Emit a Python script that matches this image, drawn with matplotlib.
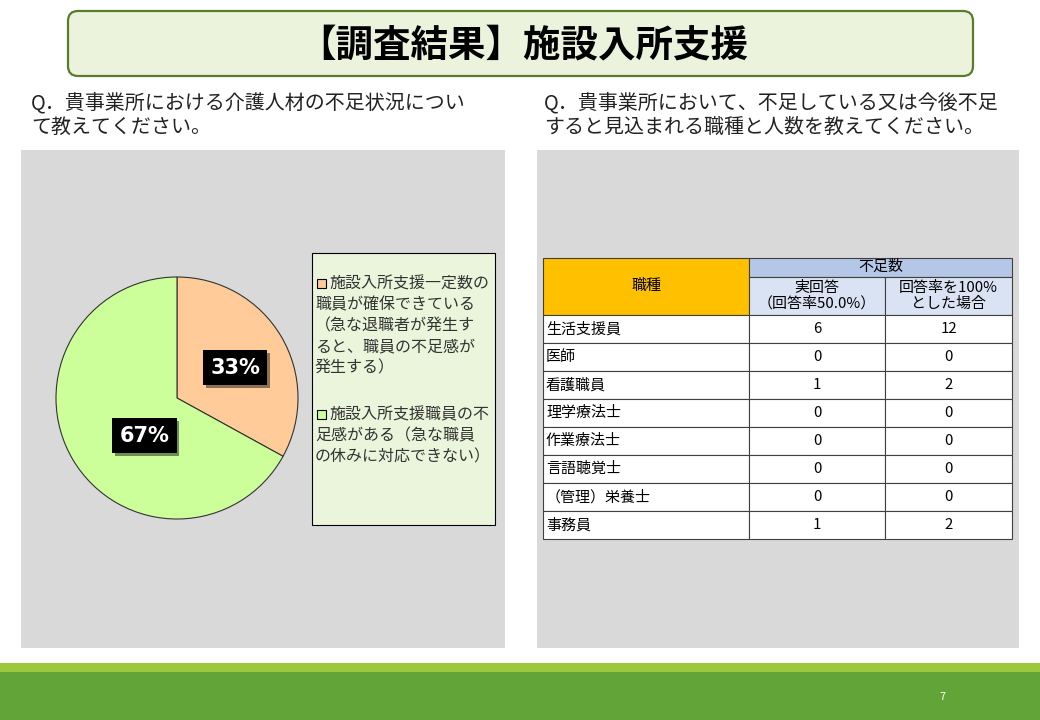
import matplotlib
matplotlib.use("Agg")
import numpy as np
import matplotlib.pyplot as plt
from matplotlib.patches import Rectangle, FancyBboxPatch
import matplotlib.patheffects as pe

plt.rcParams['font.family'] = ['Noto Sans CJK JP', 'DejaVu Sans']

# ---- data ----
title = "【調査結果】施設入所支援"
q_left = ["Q．貴事業所における介護人材の不足状況につい", "て教えてください。"]
q_right = ["Q．貴事業所において、不足している又は今後不足", "すると見込まれる職種と人数を教えてください。"]

pie_values = [33, 67]
pie_colors = ["#FFCC99", "#CCFF99"]
pie_legend = [
    ["施設入所支援一定数の", "職員が確保できている", "（急な退職者が発生す", "ると、職員の不足感が", "発生する）"],
    ["施設入所支援職員の不", "足感がある（急な職員", "の休みに対応できない）"],
]

jobs = ["生活支援員", "医師", "看護職員", "理学療法士", "作業療法士", "言語聴覚士", "（管理）栄養士", "事務員"]
actual = [6, 0, 1, 0, 0, 0, 0, 1]
scaled = [12, 0, 2, 0, 0, 0, 0, 2]
head_job = "職種"
head_group = "不足数"
head_actual = "実回答\n（回答率50.0%）"
head_scaled = "回答率を100%\nとした場合"
page_no = "7"

fig = plt.figure(figsize=(10.4, 7.2), dpi=100)
ax = fig.add_axes([0, 0, 1, 1])
ax.set_xlim(0, 1040)
ax.set_ylim(720, 0)
ax.axis('off')

# title box
ax.add_patch(FancyBboxPatch((68, 11), 905, 65, boxstyle="round,pad=0,rounding_size=10",
                            fc="#EBF3DD", ec="#5B7B2C", lw=1.6))
ax.text(523, 45, title, fontsize=27, fontweight='bold', ha='center', va='center')

# questions
for i, s in enumerate(q_left):
    ax.text(31, 103 + i * 24, s, fontsize=14.4, va='center', color='#222222')
for i, s in enumerate(q_right):
    ax.text(544, 103 + i * 24, s, fontsize=14.4, va='center', color='#222222')

# grey panels
ax.add_patch(Rectangle((21, 150), 484, 498, fc="#D9D9D9", ec='none'))
ax.add_patch(Rectangle((537, 150), 482, 498, fc="#D9D9D9", ec='none'))

# footer
ax.add_patch(Rectangle((0, 663), 1040, 10, fc="#9BC83C", ec='none'))
ax.add_patch(Rectangle((0, 672), 1040, 48, fc="#62A437", ec='none'))
ax.text(943, 697, page_no, fontsize=8, color='white', ha='center', va='center')

# pie
cx, cy, r = 177, 398, 121
pax = fig.add_axes([(cx - r) / 1040, (720 - cy - r) / 720, 2 * r / 1040, 2 * r / 720])
wedges, _ = pax.pie(pie_values, colors=pie_colors, startangle=90, counterclock=False,
                    wedgeprops=dict(edgecolor='#333333', linewidth=0.8))
pax.set_xlim(-1, 1)
pax.set_ylim(-1, 1)
pax.axis('off')
label_pos = [(0.48, 0.25), (-0.27, -0.31)]
for v, (lx, ly) in zip(pie_values, label_pos):
    t = pax.text(lx, ly, f"{v}%", fontsize=15, fontweight='bold', color='white',
                 family=['DejaVu Sans'], ha='center', va='center',
                 bbox=dict(boxstyle='square,pad=0.35', fc='black', ec='none'))
    t.get_bbox_patch().set_path_effects([pe.SimplePatchShadow(offset=(2, -2), alpha=0.45), pe.Normal()])

# legend
ax.add_patch(Rectangle((312, 253), 183, 272, fc="#EBF5DC", ec='black', lw=0.8))
starts = [284, 415]
for lines, col, y0 in zip(pie_legend, pie_colors, starts):
    ax.add_patch(Rectangle((317, y0 - 5), 9, 9, fc=col, ec='black', lw=0.8))
    for j, s in enumerate(lines):
        x = 329 if j == 0 else 315
        ax.text(x, y0 + j * 21, s, fontsize=11.5, va='center', color='#333333')

# table
x0, x1, x2, x3 = 543, 749, 885, 1012
y_top, y_mid, y_head = 258, 277, 315
row_h = 28
lc = '#404040'
ax.add_patch(Rectangle((x0, y_top), x1 - x0, y_head - y_top, fc="#FFC000", ec=lc, lw=0.8))
ax.add_patch(Rectangle((x1, y_top), x3 - x1, y_mid - y_top, fc="#B4C7E7", ec=lc, lw=0.8))
ax.add_patch(Rectangle((x1, y_mid), x2 - x1, y_head - y_mid, fc="#DAE3F3", ec=lc, lw=0.8))
ax.add_patch(Rectangle((x2, y_mid), x3 - x2, y_head - y_mid, fc="#DAE3F3", ec=lc, lw=0.8))
fs = 10.8
ax.text((x0 + x1) / 2, 286, head_job, fontsize=fs, ha='center', va='center')
ax.text((x1 + x3) / 2, y_top + 9, head_group, fontsize=fs, ha='center', va='center')
ax.text((x1 + x2) / 2, (y_mid + y_head) / 2, head_actual, fontsize=fs, ha='center', va='center', linespacing=1.1)
ax.text((x2 + x3) / 2, (y_mid + y_head) / 2, head_scaled, fontsize=fs, ha='center', va='center', linespacing=1.1)

for i, (job, a, s) in enumerate(zip(jobs, actual, scaled)):
    yt = y_head + i * row_h
    for xa, xb in [(x0, x1), (x1, x2), (x2, x3)]:
        ax.add_patch(Rectangle((xa, yt), xb - xa, row_h, fc='white', ec=lc, lw=0.8))
    ax.text(x0 + 3, yt + row_h / 2, job, fontsize=fs, va='center')
    ax.text((x1 + x2) / 2, yt + row_h / 2, str(a), fontsize=fs, ha='center', va='center')
    ax.text((x2 + x3) / 2, yt + row_h / 2, str(s), fontsize=fs, ha='center', va='center')

fig.savefig("out.png", dpi=100, facecolor='white')
